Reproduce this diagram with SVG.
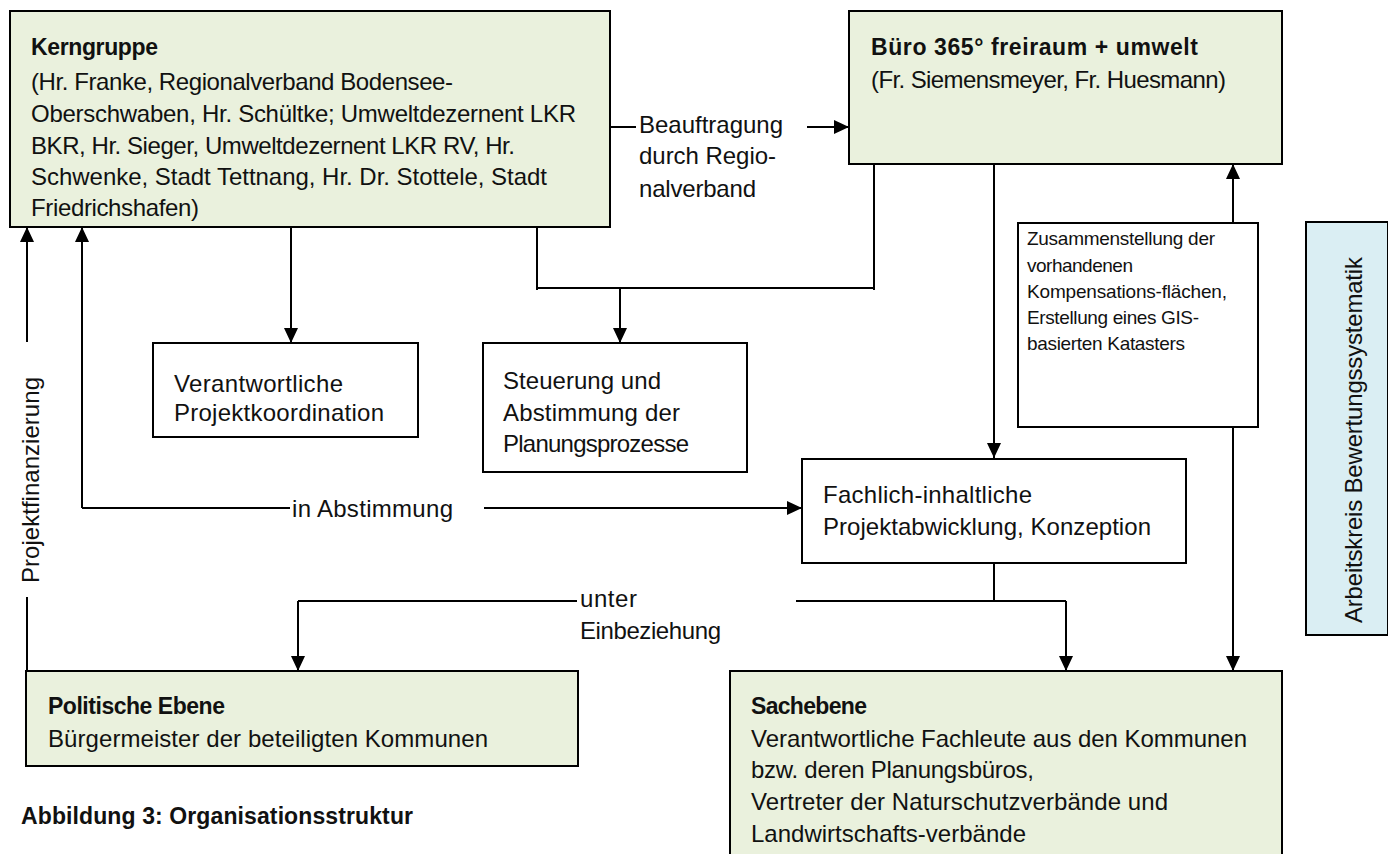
<svg xmlns="http://www.w3.org/2000/svg" width="1388" height="854" viewBox="0 0 1388 854">
<defs>
<marker id="ah" markerWidth="15" markerHeight="14" refX="15" refY="7" orient="auto" markerUnits="userSpaceOnUse"><path d="M0,0 L15,7 L0,14 z" fill="#000"/></marker>
<style>
text{font-family:"Liberation Sans",Arial,sans-serif;font-size:24px;fill:#111}
.b{font-weight:bold;font-size:23px}
.s{font-size:19px}
.r{font-size:24px}
.g{fill:#EAF1DD;stroke:#000;stroke-width:2}
.w{fill:#fff;stroke:#000;stroke-width:2}
.bl{fill:#DAEEF3;stroke:#000;stroke-width:2}
.c{fill:none;stroke:#000;stroke-width:2}
.a{marker-end:url(#ah)}
</style>
</defs>
<rect width="1388" height="854" fill="#fff"/>

<g id="connectors">
<path class="c" d="M610,127 H636"/>
<path class="c a" d="M807,127 H849"/>
<path class="c a" d="M291,227 V343"/>
<path class="c" d="M537,227 V290 M537,288 H874 M874,164 V290"/>
<path class="c a" d="M620,288 V343"/>
<path class="c a" d="M994,164 V458"/>
<path class="c a" d="M1233,223 V164"/>
<path class="c a" d="M1233,427 V671"/>
<path class="c a" d="M27,342 V227"/>
<path class="c" d="M27,597 V671"/>
<path class="c a" d="M82,508 V227"/>
<path class="c" d="M82,508 H290"/>
<path class="c a" d="M484,508 H802"/>
<path class="c" d="M994,563 V601 M796,601 H1066"/>
<path class="c a" d="M1066,601 V671"/>
<path class="c" d="M577,601 H298"/>
<path class="c a" d="M298,601 V671"/>
</g>

<g id="label-beauftragung">
<text x="639" y="133" textLength="144">Beauftragung</text>
<text x="639" y="164" textLength="137">durch Regio-</text>
<text x="639" y="197" textLength="117">nalverband</text>
</g>
<g id="label-abstimmung"><text x="292" y="517" textLength="161">in Abstimmung</text></g>
<g id="label-einbeziehung">
<text x="580" y="607" textLength="57">unter</text>
<text x="580" y="639" textLength="141">Einbeziehung</text>
</g>
<g id="label-finanzierung"><text class="r" transform="translate(39,583) rotate(-90)" textLength="206">Projektfinanzierung</text></g>

<g id="kerngruppe">
<rect class="g" x="10" y="11" width="600" height="216"/>
<text class="b" x="31" y="55" textLength="127">Kerngruppe</text>
<text x="31" y="90" textLength="422">(Hr. Franke, Regionalverband Bodensee-</text>
<text x="31" y="122" textLength="545">Oberschwaben, Hr. Schültke; Umweltdezernent LKR</text>
<text x="31" y="154" textLength="484">BKR, Hr. Sieger, Umweltdezernent LKR RV, Hr.</text>
<text x="31" y="185" textLength="516">Schwenke, Stadt Tettnang, Hr. Dr. Stottele, Stadt</text>
<text x="31" y="216" textLength="168">Friedrichshafen)</text>
</g>

<g id="buero">
<rect class="g" x="849" y="11" width="433" height="153"/>
<text class="b" x="871" y="55" textLength="327">Büro 365° freiraum + umwelt</text>
<text x="871" y="88" textLength="355">(Fr. Siemensmeyer, Fr. Huesmann)</text>
</g>

<g id="koordination">
<rect class="w" x="153" y="343" width="265" height="94"/>
<text x="174" y="392" textLength="169">Verantwortliche</text>
<text x="174" y="421" textLength="210">Projektkoordination</text>
</g>

<g id="steuerung">
<rect class="w" x="483" y="343" width="264" height="129"/>
<text x="503" y="389" textLength="158">Steuerung und</text>
<text x="503" y="421" textLength="177">Abstimmung der</text>
<text x="503" y="452" textLength="186">Planungsprozesse</text>
</g>

<g id="zusammenstellung">
<rect class="w" x="1018" y="223" width="240" height="204"/>
<text class="s" x="1027" y="245" textLength="188">Zusammenstellung der</text>
<text class="s" x="1027" y="271.5" textLength="106">vorhandenen</text>
<text class="s" x="1027" y="298" textLength="200">Kompensations-flächen,</text>
<text class="s" x="1027" y="324" textLength="172">Erstellung eines GIS-</text>
<text class="s" x="1027" y="350" textLength="158">basierten Katasters</text>
</g>

<g id="fachlich">
<rect class="w" x="802" y="459" width="384" height="104"/>
<text x="823" y="503" textLength="209">Fachlich-inhaltliche</text>
<text x="823" y="535" textLength="328">Projektabwicklung, Konzeption</text>
</g>

<g id="arbeitskreis">
<rect class="bl" x="1306" y="222" width="82" height="413"/>
<text class="r" transform="translate(1362,623) rotate(-90)" textLength="366">Arbeitskreis Bewertungssystematik</text>
</g>

<g id="politische">
<rect class="g" x="26" y="671" width="552" height="95"/>
<text class="b" x="48" y="714" textLength="177">Politische Ebene</text>
<text x="48" y="747" textLength="440">Bürgermeister der beteiligten Kommunen</text>
</g>

<g id="sachebene">
<rect class="g" x="730" y="671" width="552" height="195"/>
<text class="b" x="751" y="714" textLength="116">Sachebene</text>
<text x="751" y="747" textLength="496">Verantwortliche Fachleute aus den Kommunen</text>
<text x="751" y="778" textLength="283">bzw. deren Planungsbüros,</text>
<text x="751" y="810" textLength="417">Vertreter der Naturschutzverbände und</text>
<text x="751" y="842" textLength="275">Landwirtschafts-verbände</text>
</g>

<g id="caption"><text class="b" x="21" y="824" textLength="392">Abbildung 3: Organisationsstruktur</text></g>
</svg>
